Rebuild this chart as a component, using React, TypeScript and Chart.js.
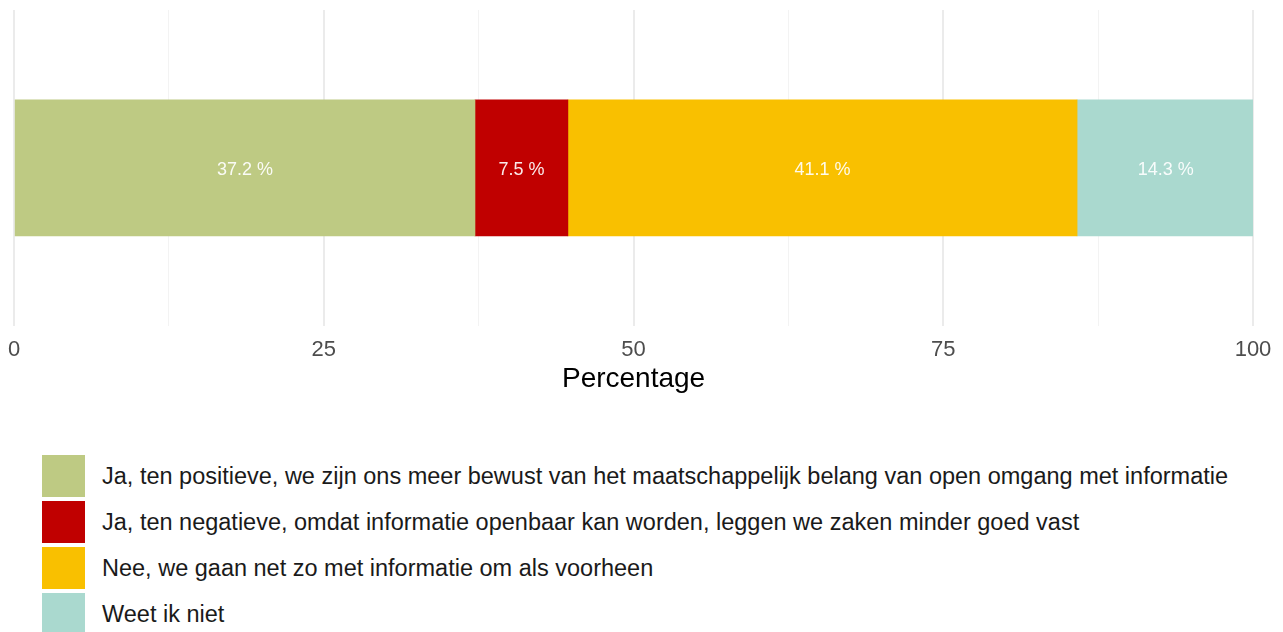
import React, { useEffect, useRef } from "react";
import { Chart, registerables } from "chart.js";

Chart.register(...registerables);

const categories = ["Antwoord"];
const seriesLabels = [
  "Ja, ten positieve, we zijn ons meer bewust van het maatschappelijk belang van open omgang met informatie",
  "Ja, ten negatieve, omdat informatie openbaar kan worden, leggen we zaken minder goed vast",
  "Nee, we gaan net zo met informatie om als voorheen",
  "Weet ik niet",
];
const seriesValues = [37.2, 7.5, 41.1, 14.3];
const seriesColors = ["#BECA83", "#C00000", "#F9C000", "#AAD9CF"];
const tickLabels = [0, 25, 50, 75, 100];
const axisTitle = "Percentage";

const FONT = "'Liberation Sans', Arial, sans-serif";

const labelPlugin = {
  id: "barLabels",
  afterDatasetsDraw(chart: any) {
    const ctx = chart.ctx;
    ctx.save();
    ctx.font = `18px ${FONT}`;
    ctx.fillStyle = "rgba(255,255,255,0.92)";
    ctx.textAlign = "center";
    ctx.textBaseline = "middle";
    chart.data.datasets.forEach((ds: any, i: number) => {
      const meta = chart.getDatasetMeta(i);
      meta.data.forEach((el: any, j: number) => {
        const v = ds.data[j];
        const props = el.getProps(["x", "y", "base"], true);
        const cx = (props.x + props.base) / 2;
        ctx.fillText(`${v.toFixed(1)} %`, cx, props.y + 2);
      });
    });
    ctx.restore();
  },
};

export default function App() {
  const canvasRef = useRef<HTMLCanvasElement | null>(null);

  useEffect(() => {
    document.body.style.margin = "0";
    const canvas = canvasRef.current;
    if (!canvas) return;
    const chart = new Chart(canvas, {
      type: "bar",
      data: {
        labels: categories,
        datasets: seriesLabels.map((label, i) => ({
          label,
          data: [seriesValues[i]],
          backgroundColor: seriesColors[i],
          borderWidth: 0,
          barThickness: 136,
        })),
      },
      options: {
        indexAxis: "y",
        animation: false,
        responsive: false,
        maintainAspectRatio: false,
        layout: { padding: { left: 14, right: 30, top: 10, bottom: 16 } },
        plugins: {
          legend: { display: false },
          tooltip: { enabled: false },
        },
        scales: {
          x: {
            stacked: true,
            min: 0,
            max: 100,
            border: { display: false },
            grid: {
              drawTicks: false,
              color: (c: any) =>
                c.tick && c.tick.value % 25 === 0 ? "#EBEBEB" : "#F3F3F3",
              lineWidth: (c: any) =>
                c.tick && c.tick.value % 25 === 0 ? 2 : 1,
            },
            ticks: {
              stepSize: 12.5,
              autoSkip: false,
              maxRotation: 0,
              padding: 8,
              color: "#4D4D4D",
              font: { family: FONT, size: 22, lineHeight: 1.45 },
              callback: (v: any) =>
                tickLabels.includes(Number(v)) ? String(v) : "",
            },
            title: {
              display: true,
              text: axisTitle,
              color: "#000000",
              font: { family: FONT, size: 28, lineHeight: 0.364 },
              padding: { top: 0, bottom: 0 },
            },
          },
          y: {
            stacked: true,
            display: false,
          },
        },
      },
      plugins: [labelPlugin],
    });
    return () => chart.destroy();
  }, []);

  return (
    <div style={{ position: "relative", width: 1283, height: 632, fontFamily: FONT }}>
      <canvas ref={canvasRef} width={1283} height={400} style={{ display: "block" }} />
      {seriesLabels.map((label, i) => (
        <div
          key={label}
          style={{
            position: "absolute",
            left: 42,
            top: 455 + i * 46,
            height: 42,
            display: "flex",
            alignItems: "center",
            whiteSpace: "nowrap",
          }}
        >
          <div style={{ width: 43, height: 42, background: seriesColors[i] }} />
          <span style={{ marginLeft: 17, fontSize: 23.5, color: "#1A1A1A" }}>{label}</span>
        </div>
      ))}
    </div>
  );
}
